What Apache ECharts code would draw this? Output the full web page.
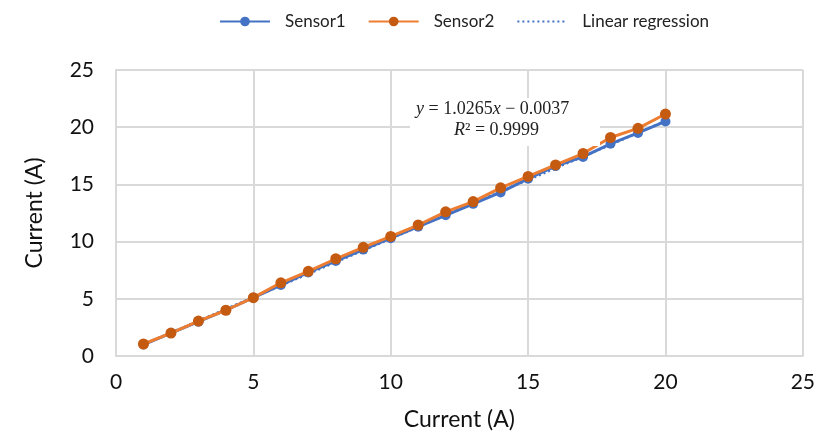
<!DOCTYPE html>
<html><head><meta charset="utf-8">
<script src="https://cdn.jsdelivr.net/npm/echarts@6/dist/echarts.min.js"></script>
<style>html,body{margin:0;padding:0;background:#fff}#c{width:818px;height:436px}</style>
</head><body><div id="c"></div>
<script>
const currents = [1,2,3,4,5,6,7,8,9,10,11,12,13,14,15,16,17,18,19,20];
const sensor1 = [1.0,2.0,3.0,4.0,5.1,6.2,7.3,8.3,9.3,10.3,11.3,12.3,13.3,14.3,15.5,16.6,17.4,18.55,19.5,20.5];
const sensor2 = [1.05,2.0,3.05,4.0,5.1,6.4,7.4,8.5,9.5,10.45,11.45,12.6,13.5,14.7,15.7,16.7,17.7,19.1,19.9,21.15];
const regressionX = [1, 20];
const regressionY = [1.0228, 20.5263];
const xTicks = [0,5,10,15,20,25];
const yTicks = [0,5,10,15,20,25];
const legendNames = ['Sensor1','Sensor2','Linear regression'];

const chart = echarts.init(document.getElementById('c'), null, {renderer:'canvas'});
const font = 'Lato, "Open Sans", sans-serif';
chart.setOption({
  animation:false,
  backgroundColor:'#fff',
  grid:{left:116,right:12,top:70,bottom:79},
  legend:{
    data:[{name:legendNames[0]},{name:legendNames[1]},{name:legendNames[2],itemStyle:{opacity:0}}],
    top:8, left:214, itemWidth:50, itemHeight:12, itemGap:22,
    textStyle:{fontFamily:font,fontSize:17,color:'#222',padding:[0,0,0,10]}
  },
  xAxis:{
    type:'value', min:xTicks[0], max:xTicks[xTicks.length-1], interval:5,
    name:'Current (A)', nameLocation:'middle', nameGap:52,
    nameTextStyle:{fontFamily:font,fontSize:23,color:'#111'},
    axisLine:{lineStyle:{color:'#d9d9d9',width:2}}, axisTick:{show:false},
    axisLabel:{fontFamily:font,fontSize:21,color:'#111',margin:16},
    splitLine:{lineStyle:{color:'#d9d9d9',width:2}}
  },
  yAxis:{
    type:'value', min:yTicks[0], max:yTicks[yTicks.length-1], interval:5,
    name:'Current (A)', nameLocation:'middle', nameGap:70,
    nameTextStyle:{fontFamily:font,fontSize:23,color:'#111'},
    axisLine:{show:true,lineStyle:{color:'#d9d9d9',width:2}}, axisTick:{show:false},
    axisLabel:{fontFamily:font,fontSize:21,color:'#111',margin:22},
    splitLine:{lineStyle:{color:'#d9d9d9',width:2}}
  },
  series:[
    {name:legendNames[0], type:'line', data:currents.map((x,i)=>[x,sensor1[i]]),
     symbol:'circle', symbolSize:10, lineStyle:{color:'#4472C4',width:3},
     itemStyle:{color:'#4472C4'}, z:2},
    {name:legendNames[2], type:'line', data:regressionX.map((x,i)=>[x,regressionY[i]]),
     symbol:'none', lineStyle:{color:'#4472C4',width:2.5,type:[2,3]},
     itemStyle:{color:'#4472C4'}, z:3},
    {name:legendNames[1], type:'line', data:currents.map((x,i)=>[x,sensor2[i]]),
     symbol:'circle', symbolSize:11, lineStyle:{color:'#ED7D31',width:3},
     itemStyle:{color:'#C55A11'}, z:4}
  ],
  graphic:[
    {type:'rect', left:410, top:98, shape:{width:190,height:48}, style:{fill:'#fff'}, z:10},
    {type:'text', left:416, top:100, z:11, style:{
      text:'{i|y} = 1.0265{i|x} \u2212 0.0037', fill:'#222',
      font:'18px "Liberation Serif", serif',
      rich:{i:{fontStyle:'italic',fontFamily:'"Liberation Serif", serif',fontSize:18,fill:'#222'}}
    }},
    {type:'text', left:454, top:121, z:11, style:{
      text:'{i|R}\u00b2 = 0.9999', fill:'#222',
      font:'18px "Liberation Serif", serif',
      rich:{i:{fontStyle:'italic',fontFamily:'"Liberation Serif", serif',fontSize:18,fill:'#222'}}
    }}
  ]
});
</script></body></html>
